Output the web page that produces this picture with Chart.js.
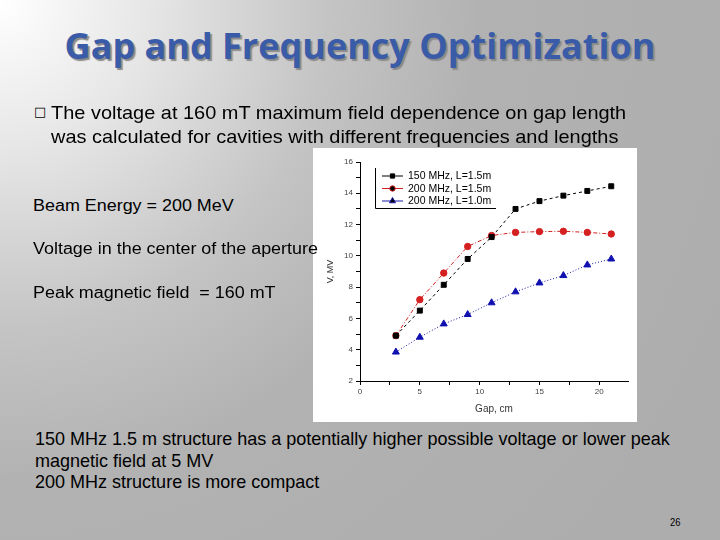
<!doctype html>
<html lang="en">
  <head>
    <title>Gap and Frequency Optimization</title>
    <meta name="viewport" content="width=device-width, initial-scale=1">
    <style>
        * { margin: 0; padding: 0; box-sizing: border-box; }
        html, body { width: 720px; height: 540px; overflow: hidden; }
        body {
            font-family: "Liberation Sans", Arial, sans-serif;
            background: radial-gradient(circle at 0 0, #ffffff 0px, #e6e6e6 150px, #c4c4c4 330px, #b2b2b2 480px, #adadad 800px);
            position: relative;
        }
        .t { position: absolute; white-space: nowrap; color: #000; transform-origin: 0 0; z-index: 2; }
        #title {
            left: 0; width: 720px; top: 21px; text-align: center;
            font-family: "Open Sans", sans-serif; font-weight: 700; font-size: 36px;
            color: #3a5ca8; text-shadow: 2px 2px 1px #8a8a8a;
        }
        .bullet { left: 34px; top: 104px; font-size: 13px; font-family: "DejaVu Sans", sans-serif; }
        .big { font-size: 19px; line-height: 24px; transform: scaleX(1.05); }
        .mid { font-size: 16px; transform: scaleX(1.12); }
        .low { font-size: 19px; line-height: 21.5px; transform: scaleX(0.948); }
        #box { position: absolute; left: 313px; top: 148px; width: 324px; height: 274px; background: #fff; z-index: 1; }
        #page { left: 670px; top: 516px; font-size: 11px; transform: scaleX(0.85); }
    </style>
  </head>
  <body>
    <div id="title" class="t">Gap and Frequency Optimization</div>
    <div class="t bullet">&#9633;</div>
    <div class="t big" style="left:51px; top:101px;">The voltage at 160 mT maximum field dependence on gap length<br>was calculated for cavities with different frequencies and lengths</div>

    <div id="box"><canvas id="gapChart" width="324" height="274"></canvas></div>

    <div class="t mid" style="left:33px; top:197px;">Beam Energy = 200 MeV</div>
    <div class="t mid" style="left:33px; top:240px;">Voltage in the center of the aperture</div>
    <div class="t mid" style="left:33px; top:284px;">Peak magnetic field&nbsp; = 160 mT</div>

    <div class="t low" style="left:35px; top:428px;">150 MHz 1.5 m structure has a potentially higher possible voltage or lower peak<br>magnetic field at 5 MV<br>200 MHz structure is more compact</div>
    <div id="page" class="t">26</div>

    <script src="https://cdn.jsdelivr.net/npm/chart.js@4/dist/chart.umd.min.js"></script>
    <script>
      // gap length, cm
      const gaps = [3, 5, 7, 9, 11, 13, 15, 17, 19, 21];
      // voltage, MV
      const v150_15 = [4.9, 6.5, 8.15, 9.8, 11.2, 13.0, 13.5, 13.85, 14.15, 14.45];
      const v200_15 = [4.9, 7.2, 8.9, 10.6, 11.3, 11.5, 11.55, 11.57, 11.5, 11.4];
      const v200_10 = [3.85, 4.8, 5.65, 6.25, 7.0, 7.7, 8.27, 8.74, 9.42, 9.8];
      const seriesNames = ['150 MHz, L=1.5m', '200 MHz, L=1.5m', '200 MHz, L=1.0m'];

      const pts = (ys) => gaps.map((x, i) => ({ x: x, y: ys[i] }));

      // legend box drawn inside the plot, top left
      const boxLegend = {
        id: 'boxLegend',
        afterDraw(chart) {
          const ctx = chart.ctx;
          const a = chart.chartArea;
          const x0 = a.left + 15, y0 = a.top + 6, w = 121, h = 40;
          ctx.save();
          ctx.strokeStyle = '#000';
          ctx.lineWidth = 1;
          ctx.beginPath();
          ctx.moveTo(x0 + 0.5, y0);
          ctx.lineTo(x0 + 0.5, y0 + h + 0.5);
          ctx.lineTo(x0 + w, y0 + h + 0.5);
          ctx.stroke();
          ctx.font = '10.5px "Liberation Sans", Arial, sans-serif';
          ctx.textBaseline = 'middle';
          chart.data.datasets.forEach((ds, i) => {
            const y = y0 + 8 + i * 12.5;
            ctx.strokeStyle = ds.borderColor;
            ctx.setLineDash([]);
            ctx.beginPath();
            ctx.moveTo(x0 + 7, y);
            ctx.lineTo(x0 + 28, y);
            ctx.stroke();
            Chart.helpers.drawPoint(ctx, {
              pointStyle: ds.pointStyle, radius: ds.pointRadius - 0.5, rotation: 0, borderWidth: 1
            }, x0 + 17.5, y);
            ctx.fillStyle = '#000';
            ctx.fillText(ds.label, x0 + 33, y + 0.5);
          });
          ctx.restore();
        }
      };

      function pointCfg(style, color, r) {
        return { pointStyle: style, pointRadius: r, pointBackgroundColor: color, pointBorderColor: color, pointBorderWidth: 1 };
      }

      new Chart(document.getElementById('gapChart'), {
        type: 'scatter',
        data: {
          datasets: [
            Object.assign({ label: seriesNames[0], data: pts(v150_15), showLine: true, borderColor: '#000000', borderWidth: 1, borderDash: [3, 3] }, pointCfg('rect', '#000000', 3.5)),
            Object.assign({ label: seriesNames[1], data: pts(v200_15), showLine: true, borderColor: '#d42020', borderWidth: 1, borderDash: [4, 2, 1, 2] }, pointCfg('circle', '#d42020', 3.2)),
            Object.assign({ label: seriesNames[2], data: pts(v200_10), showLine: true, borderColor: '#1a1aa8', borderWidth: 1, borderDash: [1, 2] }, pointCfg('triangle', '#1010b0', 4))
          ]
        },
        options: {
          responsive: false,
          animation: false,
          layout: { padding: { top: 14, right: 9, left: 0, bottom: 0 } },
          plugins: { legend: { display: false }, tooltip: { enabled: false } },
          scales: {
            x: {
              type: 'linear', min: 0, max: 22.4,
              afterFit: (ax) => { ax.height = 41; },
              afterBuildTicks: (ax) => { ax.ticks = [0, 2.5, 5, 7.5, 10, 12.5, 15, 17.5, 20].map(v => ({ value: v })); },
              ticks: {
                autoSkip: false, maxRotation: 0, padding: 2, color: '#444',
                font: { size: 8 },
                callback: (v) => (v % 5 === 0 ? v : '')
              },
              grid: { drawOnChartArea: false, tickLength: 4, color: '#000' },
              border: { color: '#000', width: 1 },
              title: { display: true, text: 'Gap, cm', color: '#333', font: { size: 10 }, padding: { top: 0, bottom: 7 } }
            },
            y: {
              min: 2, max: 16,
              afterFit: (ax) => { ax.width = 47; },
              ticks: {
                stepSize: 1, autoSkip: false, padding: 3, color: '#444',
                font: { size: 8 },
                callback: (v) => (v % 2 === 0 ? v : '')
              },
              grid: { drawOnChartArea: false, tickLength: 4, color: '#000' },
              border: { color: '#000', width: 1 },
              title: { display: true, text: 'V, MV', color: '#333', font: { size: 9 }, padding: { top: 12, bottom: 0 } }
            }
          }
        },
        plugins: [boxLegend]
      });
    </script>
  </body>
</html>
